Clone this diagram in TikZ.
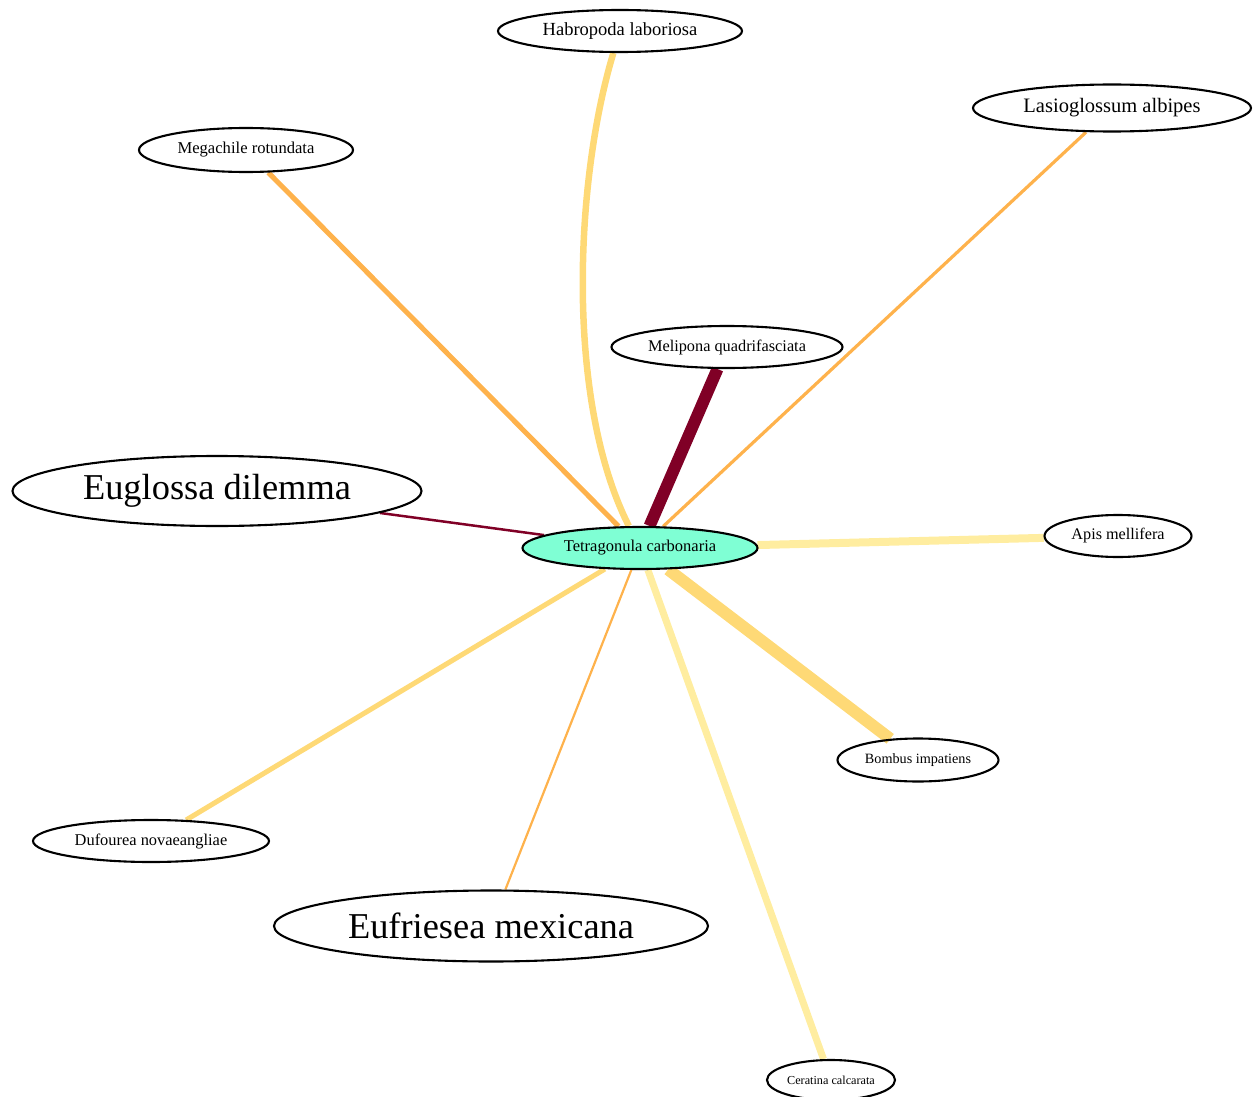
\documentclass[tikz,border=0pt]{standalone}
\usepackage{fontspec}
\setmainfont{Liberation Serif}
\usetikzlibrary{shapes.geometric,backgrounds}
\definecolor{hubgreen}{HTML}{7FFFD4}
\definecolor{paleyellow}{HTML}{FFEDA0}
\definecolor{softgold}{HTML}{FED976}
\definecolor{midorange}{HTML}{FEB24C}
\definecolor{deepmaroon}{HTML}{800026}
\newcommand{\fsz}[1]{\fontsize{#1}{#1}\selectfont}
\tikzset{
  bee/.style={ellipse,draw=black,line width=2.1pt,inner sep=0pt},
  link/.style={line cap=butt}
}
\begin{document}
\begin{tikzpicture}[x=1pt,y=-1pt,
  hub/.style={bee,fill=hubgreen}
]
  \useasboundingbox (0,0) rectangle (1253,1097);
  \node[hub,minimum width=235,minimum height=42,font=\fsz{16.5}] (tetra) at (640,548) {Tetragonula carbonaria};
  \node[bee,minimum width=244,minimum height=42,font=\fsz{18.5}] (habro) at (620,31) {Habropoda laboriosa};
  \node[bee,minimum width=214,minimum height=44,font=\fsz{16.6}] (mega) at (246,150) {Megachile rotundata};
  \node[bee,minimum width=278,minimum height=47,font=\fsz{20.5}] (lasio) at (1112,108) {Lasioglossum albipes};
  \node[bee,minimum width=231,minimum height=42,font=\fsz{16.3}] (meli) at (727,347) {Melipona quadrifasciata};
  \node[bee,minimum width=409,minimum height=70,font=\fsz{36.4}] (eugl) at (217,491) {Euglossa dilemma};
  \node[bee,minimum width=147,minimum height=42,font=\fsz{16.2}] (apis) at (1118,536) {Apis mellifera};
  \node[bee,minimum width=161,minimum height=43,font=\fsz{14.2}] (bomb) at (918,760) {Bombus impatiens};
  \node[bee,minimum width=236,minimum height=42,font=\fsz{16.4}] (dufo) at (151,841) {Dufourea novaeangliae};
  \node[bee,minimum width=434,minimum height=71,font=\fsz{36.4}] (eufr) at (491,926) {Eufriesea mexicana};
  \node[bee,minimum width=128,minimum height=40,font=\fsz{12.2}] (cera) at (831,1080) {Ceratina calcarata};

  \begin{scope}[on background layer]
    \draw[link,softgold,line width=6.5] (habro) .. controls (575,180) and (565,400) .. (tetra);
    \foreach \a/\c/\w in {mega/midorange/5,lasio/midorange/3.2,meli/deepmaroon/12,
                          eugl/deepmaroon/2.5,apis/paleyellow/8,bomb/softgold/12,
                          dufo/softgold/5,eufr/midorange/2.2,cera/paleyellow/7}
      \draw[link,\c,line width=\w] (\a) -- (tetra);
  \end{scope}
\end{tikzpicture}
\end{document}
